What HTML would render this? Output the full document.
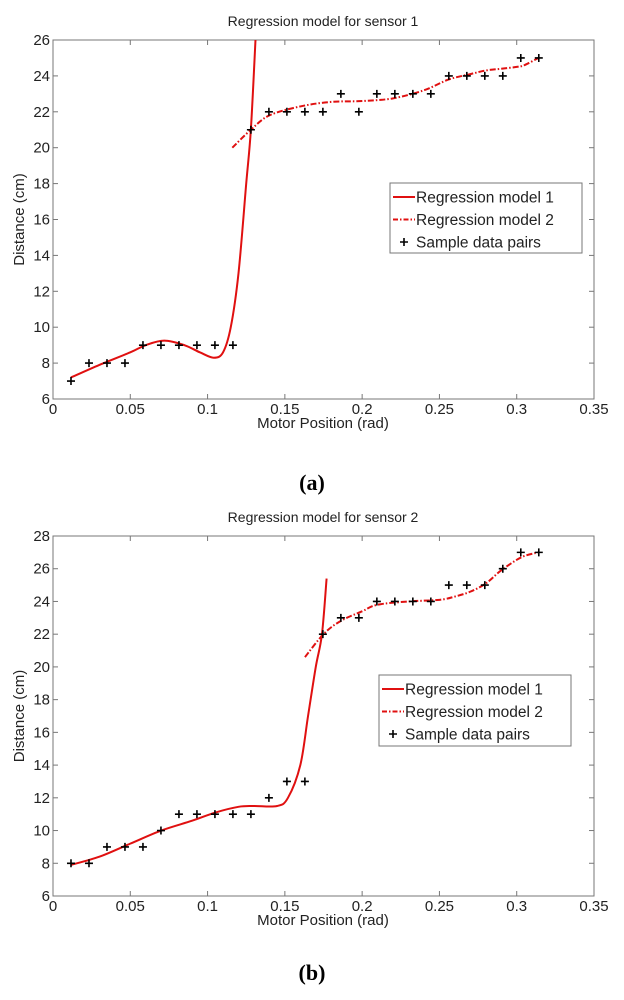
<!DOCTYPE html>
<html><head><meta charset="utf-8"><style>
body{margin:0;background:#fff;width:624px;height:1000px;overflow:hidden}
svg{display:block;font-family:"Liberation Sans",sans-serif}
</style></head><body>
<svg id="svg" width="624" height="1000"></svg>
<script>
const ticksX=[0,0.05,0.1,0.15,0.2,0.25,0.3,0.35];
const tickLabelsX=["0","0.05","0.1","0.15","0.2","0.25","0.3","0.35"];
const ticksYA=[6,8,10,12,14,16,18,20,22,24,26];
const ticksYB=[6,8,10,12,14,16,18,20,22,24,26,28];
const sampleX=[1,2,3,4,5,6,7,8,9,10,11,12,13,14,15,16,17,18,19,20,21,22,23,24,25,26,27].map(i=>i*0.01164);
const sampleYA=[7,8,8,8,9,9,9,9,9,9,21,22,22,22,22,23,22,23,23,23,23,24,24,24,24,25,25];
const sampleYB=[8,8,9,9,9,10,11,11,11,11,11,12,13,13,22,23,23,24,24,24,24,25,25,25,26,27,27];
const m1AX=[0.0116,0.03,0.05,0.06,0.072,0.085,0.095,0.104,0.11,0.115,0.12,0.125,0.128,0.131];
const m1AY=[7.2,7.9,8.6,9.0,9.25,9.0,8.6,8.3,8.6,10,13,18,21,26];
const m2AX=[0.116,0.128,0.14,0.16,0.18,0.2,0.22,0.24,0.256,0.27,0.28,0.29,0.30,0.305,0.314];
const m2AY=[20,21,21.8,22.3,22.55,22.6,22.75,23.2,23.8,24.1,24.3,24.4,24.5,24.6,25];
const m1BX=[0.0116,0.03,0.05,0.07,0.09,0.105,0.12,0.13,0.145,0.152,0.16,0.165,0.17,0.174,0.177];
const m1BY=[7.9,8.4,9.2,10,10.6,11.1,11.45,11.5,11.5,12,14,17,20,22,25.4];
const m2BX=[0.163,0.175,0.186,0.2,0.21,0.23,0.25,0.26,0.27,0.28,0.29,0.303,0.314];
const m2BY=[20.6,22,22.8,23.4,23.8,24,24.1,24.3,24.6,25.1,25.9,26.7,27];

const NS="http://www.w3.org/2000/svg";
const svg=document.getElementById('svg');
function mk(tag,attrs,parent,text){const e=document.createElementNS(NS,tag);for(const k in attrs)e.setAttribute(k,attrs[k]);if(text!=null)e.textContent=text;(parent||svg).appendChild(e);return e;}
function smooth(pts){let d=`M${pts[0][0]},${pts[0][1]}`;for(let i=0;i<pts.length-1;i++){const p0=pts[i-1]||pts[i],p1=pts[i],p2=pts[i+1],p3=pts[i+2]||p2;d+=` C${p1[0]+(p2[0]-p0[0])/6},${p1[1]+(p2[1]-p0[1])/6} ${p2[0]-(p3[0]-p1[0])/6},${p2[1]-(p3[1]-p1[1])/6} ${p2[0]},${p2[1]}`;}return d;}
function panel(id,top,bottom,ymin,ymax,ticksY,sy,m1x,m1y,m2x,m2y,title,label,leg){
  const L=53,R=594;
  const g=mk('g',{});
  
  
  const X=v=>L+(v-0)/(0.35)*(R-L);
  const Y=v=>bottom-(v-ymin)/(ymax-ymin)*(bottom-top);
  const t=mk('text',{x:323,y:top-14,'font-size':14,'text-anchor':'middle',fill:'#222'},g,title);
  
  
  const box=mk('rect',{x:L,y:top,width:R-L,height:bottom-top,fill:'none',stroke:'#777','stroke-width':1},g);
  
  
  ticksX.forEach((v,i)=>{const x=X(v);mk('line',{x1:x,y1:bottom,x2:x,y2:bottom-5,stroke:'#777'},g);mk('line',{x1:x,y1:top,x2:x,y2:top+5,stroke:'#777'},g);
    const tl=mk('text',{x:x,y:bottom+15,'font-size':15,'text-anchor':'middle',fill:'#222'},g,tickLabelsX[i]);
    
    });
  ticksY.forEach(v=>{const y=Y(v);mk('line',{x1:L,y1:y,x2:L+5,y2:y,stroke:'#777'},g);mk('line',{x1:R,y1:y,x2:R-5,y2:y,stroke:'#777'},g);
    const tl=mk('text',{x:L-3,y:y+5,'font-size':15,'text-anchor':'end',fill:'#222'},g,String(v));
    
    });
  const xt=mk('text',{x:323,y:bottom+29,'font-size':15,'text-anchor':'middle',fill:'#222'},g,'Motor Position (rad)');
  
  
  const cy=(top+bottom)/2;
  const yt=mk('text',{x:24,y:cy,'font-size':15,'text-anchor':'middle',fill:'#222',transform:`rotate(-90 24 ${cy})`},g,'Distance (cm)');
  
  
  const p1=mk('path',{d:smooth(m1x.map((v,i)=>[X(v),Y(m1y[i])])),fill:'none',stroke:'#e01010','stroke-width':2},g);
  
  
  const p2=mk('path',{d:smooth(m2x.map((v,i)=>[X(v),Y(m2y[i])])),fill:'none',stroke:'#e01010','stroke-width':2,'stroke-dasharray':'6,2,1.5,2'},g);
  
  
  sampleX.forEach((v,i)=>{const x=X(v),y=Y(sy[i]);
    const m=mk('path',{d:`M${x-4},${y}H${x+4}M${x},${y-4}V${y+4}`,stroke:'#000','stroke-width':1.6},g);
    
    });
  const lg=mk('g',{},g);
  
  
  mk('rect',{x:leg[0],y:leg[1],width:leg[2],height:leg[3],fill:'#fff',stroke:'#777'},lg);
  const names=['Regression model 1','Regression model 2','Sample data pairs'];
  names.forEach((n,i)=>{const y=leg[1]+14+i*22.5;
    if(i===0)mk('line',{x1:leg[0]+3,y1:y,x2:leg[0]+25,y2:y,stroke:'#e01010','stroke-width':2},lg);
    if(i===1)mk('line',{x1:leg[0]+3,y1:y,x2:leg[0]+25,y2:y,stroke:'#e01010','stroke-width':2,'stroke-dasharray':'5,2,1.5,2'},lg);
    if(i===2)mk('path',{d:`M${leg[0]+10},${y}h8M${leg[0]+14},${y-4}v8`,stroke:'#000','stroke-width':1.6},lg);
    const e=mk('text',{x:leg[0]+26,y:y+5.5,'font-size':15.5,fill:'#222'},lg,n);
    
    });
  const lab=mk('text',{x:312,y:label,'font-size':22,'font-weight':'bold','text-anchor':'middle','font-family':'Liberation Serif, serif',fill:'#000'},g,id==='a'?'(a)':'(b)');
  
  
}
panel('a',40,399,6,26,ticksYA,sampleYA,m1AX,m1AY,m2AX,m2AY,'Regression model for sensor 1',490,[390,183,192,70]);
panel('b',536,896,6,28,ticksYB,sampleYB,m1BX,m1BY,m2BX,m2BY,'Regression model for sensor 2',980,[379,675,192,71]);
</script>
</body></html>
